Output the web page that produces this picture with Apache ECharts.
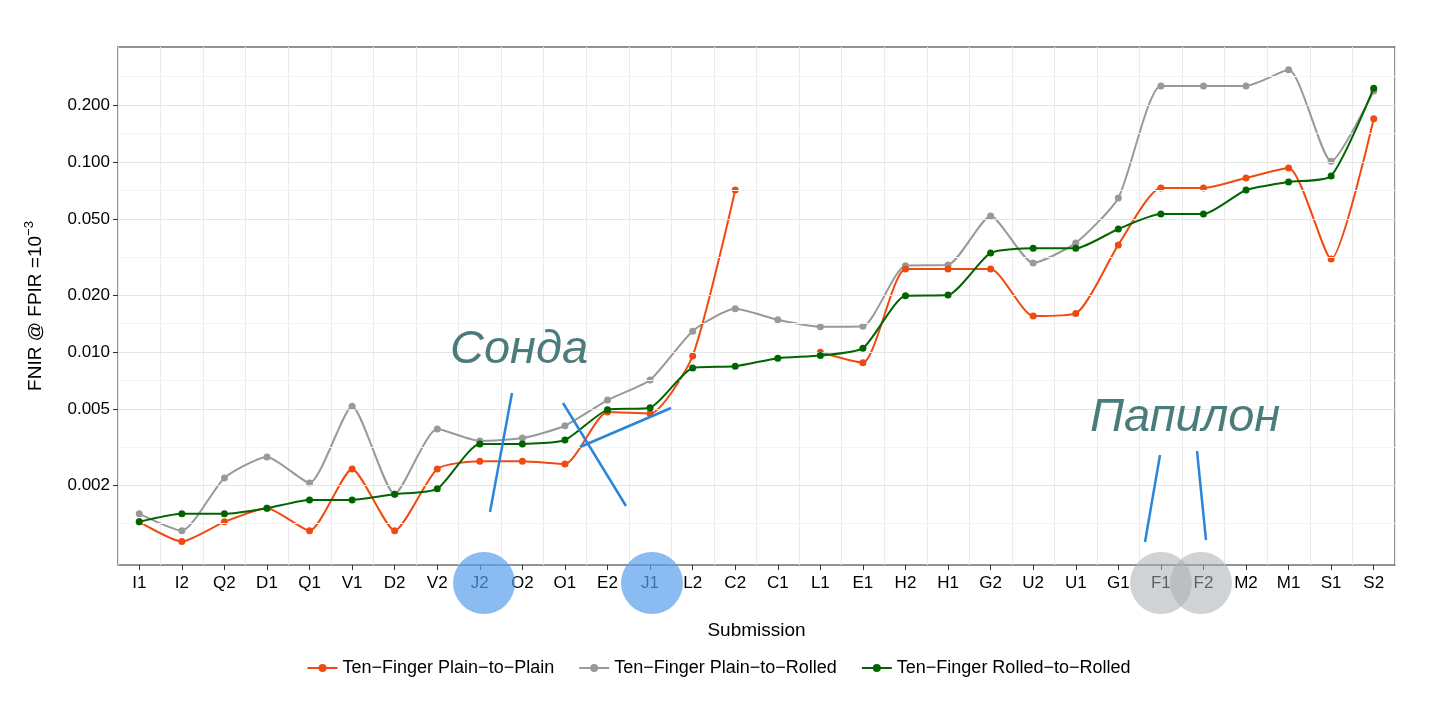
<!DOCTYPE html>
<html><head><meta charset="utf-8">
<script src="https://cdn.jsdelivr.net/npm/echarts@6/dist/echarts.min.js"></script>
<style>html,body{margin:0;background:#fff}#chart{width:1437px;height:702px}</style>
</head><body><div id="chart"></div>
<script>
var categories = ['I1','I2','Q2','D1','Q1','V1','D2','V2','J2','O2','O1','E2','J1','L2','C2','C1','L1','E1','H2','H1','G2','U2','U1','G1','F1','F2','M2','M1','S1','S2'];
var plainToPlain = [0.00128,0.00101,0.00128,0.00151,0.00115,0.00243,0.00115,0.00243,0.00267,0.00267,0.00258,0.00484,0.00475,0.00955,0.0714,null,0.0100,0.0088,0.0274,0.0274,0.0274,0.0155,0.0160,0.0367,0.0731,0.0731,0.0826,0.0932,0.0309,0.169];
var plainToRolled = [0.00141,0.00115,0.00218,0.00281,0.00205,0.0052,0.00179,0.00394,0.00341,0.00353,0.0041,0.0056,0.00714,0.0129,0.0169,0.0148,0.0136,0.0137,0.0285,0.0288,0.0521,0.0295,0.0376,0.0648,0.252,0.252,0.252,0.306,0.101,0.237];
var rolledToRolled = [0.00128,0.00141,0.00141,0.00151,0.00167,0.00167,0.00179,0.00191,0.00329,0.00329,0.00345,0.00497,0.0051,0.00826,0.00843,0.0093,0.0096,0.0105,0.0198,0.0200,0.0333,0.0352,0.0352,0.0445,0.0533,0.0533,0.0714,0.0787,0.0846,0.245];
var yTicks = [0.002,0.005,0.010,0.020,0.050,0.100,0.200];
var seriesNames = ['Ten\u2212Finger Plain\u2212to\u2212Plain','Ten\u2212Finger Plain\u2212to\u2212Rolled','Ten\u2212Finger Rolled\u2212to\u2212Rolled'];
var colors = ['#ef4a12','#999999','#006400'];

var dom = document.getElementById('chart');
var myChart = echarts.init(dom);
function lg(a){ return a.map(function(v){ return v == null ? null : Math.log10(v); }); }
var tickLogs = yTicks.map(function(v){ return Math.log10(v); });
// minor grid: midpoints in log space
var minorLogs = [];
for (var i = 0; i < tickLogs.length - 1; i++) minorLogs.push((tickLogs[i] + tickLogs[i+1]) / 2);
minorLogs.push(tickLogs[0] - (tickLogs[1]-tickLogs[0]) / 2);
minorLogs.push(tickLogs[6] + (tickLogs[6]-tickLogs[5]) / 2);

var gridLines = minorLogs.map(function(v){ return {yAxis: v, lineStyle: {color: '#f4f4f4', width: 1, type: 'solid'}}; })
  .concat(tickLogs.map(function(v){ return {yAxis: v, lineStyle: {color: '#e4e4e4', width: 1, type: 'solid'}}; }));

function mk(name, data, color, z) {
    return {
        name: name, type: 'line', data: lg(data), smooth: 0.2, connectNulls: false,
        symbol: 'circle', symbolSize: 7, color: color, z: z,
        lineStyle: {width: 2, color: color},
        itemStyle: {color: color}
    };
}

var fontF = 'Liberation Sans, Arial, sans-serif';
option = {
    animation: false,
    color: colors,
    grid: {left: 118, right: 42, top: 47, bottom: 137, show: true, borderColor: '#6f6f6f', borderWidth: 1.5, backgroundColor: '#fff'},
    legend: {
        bottom: 20, left: 'center', data: seriesNames, itemWidth: 30, itemHeight: 10, itemGap: 24,
        textStyle: {color: '#000', fontSize: 18, fontFamily: fontF}
    },
    xAxis: {
        type: 'category', data: categories, boundaryGap: true,
        name: 'Submission', nameLocation: 'middle', nameGap: 56,
        nameTextStyle: {color: '#000', fontSize: 19, fontFamily: fontF},
        axisLine: {show: false},
        axisTick: {show: true, alignWithLabel: true, length: 5, lineStyle: {color: '#333'}},
        axisLabel: {color: '#000', fontSize: 17, fontFamily: fontF, margin: 10},
        splitLine: {show: true, interval: 0, lineStyle: {color: '#ebebeb'}}
    },
    yAxis: {
        type: 'value', min: -3.12, max: -0.394,
        name: 'FNIR @ FPIR =10{s|\u22123}', nameLocation: 'middle', nameGap: 70, nameRotate: 90,
        nameTextStyle: {color: '#000', fontSize: 19, fontFamily: fontF, rich: {s: {fontSize: 13, verticalAlign: 'top', padding: [0,0,12,0]}}},
        axisLine: {show: false},
        splitLine: {show: false},
        axisTick: {show: true, customValues: tickLogs, length: 5, lineStyle: {color: '#333'}},
        axisLabel: {color: '#000', fontSize: 17, fontFamily: fontF, customValues: tickLogs,
            formatter: function(v){ return Math.pow(10, v).toFixed(3); }}
    },
    series: [
        {type: 'line', data: [], silent: true, z: 1, markLine: {silent: true, symbol: 'none', label: {show: false}, data: gridLines}},
        mk(seriesNames[1], plainToRolled, colors[1], 3),
        mk(seriesNames[0], plainToPlain, colors[0], 4),
        mk(seriesNames[2], rolledToRolled, colors[2], 5)
    ],
    graphic: [
        {type: 'circle', shape: {cx: 484, cy: 583, r: 31}, style: {fill: 'rgba(90,160,235,0.7)'}, z: 100},
        {type: 'circle', shape: {cx: 652, cy: 583, r: 31}, style: {fill: 'rgba(90,160,235,0.7)'}, z: 100},
        {type: 'circle', shape: {cx: 1161, cy: 583, r: 31}, style: {fill: 'rgba(170,175,180,0.55)'}, z: 100},
        {type: 'circle', shape: {cx: 1201, cy: 583, r: 31}, style: {fill: 'rgba(170,175,180,0.55)'}, z: 100},
        {type: 'line', shape: {x1: 512, y1: 393, x2: 490, y2: 512}, style: {stroke: '#2a85db', lineWidth: 2.5}, z: 100},
        {type: 'line', shape: {x1: 563, y1: 403, x2: 626, y2: 506}, style: {stroke: '#2a85db', lineWidth: 2.5}, z: 100},
        {type: 'line', shape: {x1: 580, y1: 447, x2: 671, y2: 408}, style: {stroke: '#2a85db', lineWidth: 2.5}, z: 100},
        {type: 'line', shape: {x1: 1160, y1: 455, x2: 1145, y2: 542}, style: {stroke: '#2a85db', lineWidth: 2.5}, z: 100},
        {type: 'line', shape: {x1: 1197, y1: 451, x2: 1206, y2: 540}, style: {stroke: '#2a85db', lineWidth: 2.5}, z: 100},
        {type: 'text', left: 450, top: 326, z: 100, style: {text: 'Сонда', fill: '#4a7c7c', fontSize: 47, fontStyle: 'italic', fontFamily: 'Liberation Sans, Arial, sans-serif'}},
        {type: 'text', left: 1090, top: 394, z: 100, style: {text: 'Папилон', fill: '#4a7c7c', fontSize: 47, fontStyle: 'italic', fontFamily: 'Liberation Sans, Arial, sans-serif'}}
    ]
};

if (option && typeof option === "object") {
    myChart.setOption(option, true);
}
</script>
</body></html>
